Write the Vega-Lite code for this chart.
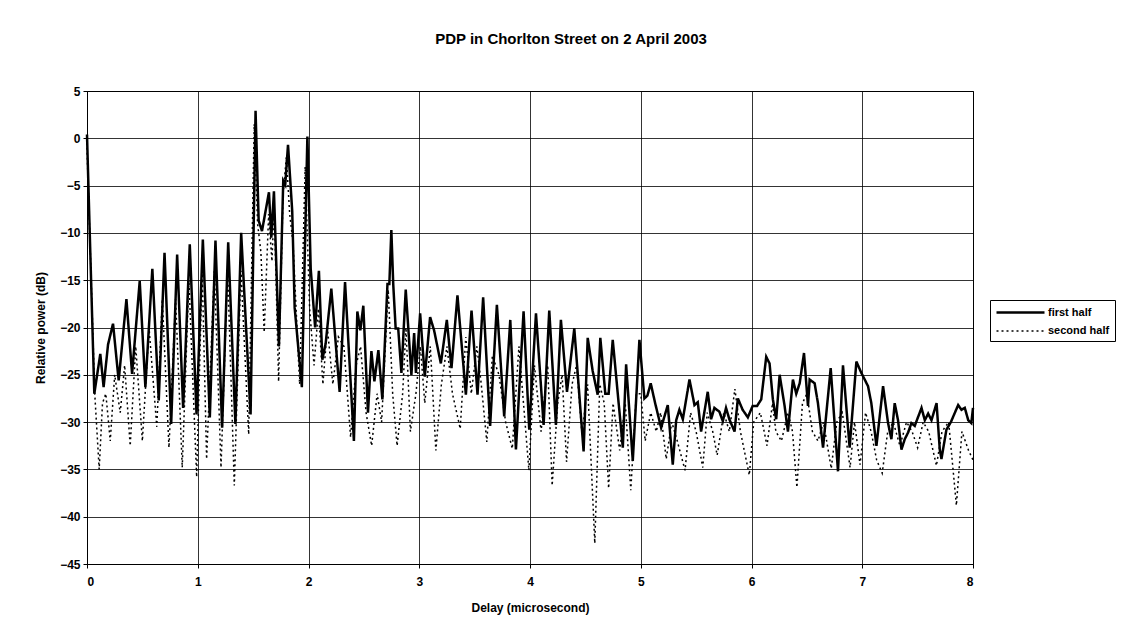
{
  "$schema": "https://vega.github.io/schema/vega-lite/v6.json",
  "autosize": {"type": "none"},
  "padding": {"left": 87, "top": 91, "right": 152, "bottom": 74},
  "width": 886,
  "height": 473,
  "background": "white",
  "title": {
    "text": "PDP in Chorlton Street on 2 April 2003",
    "font": "Liberation Sans",
    "fontSize": 15,
    "fontWeight": "bold",
    "color": "black",
    "anchor": "middle",
    "dx": 41,
    "offset": 38
  },
  "config": {
    "view": {"stroke": "black", "strokeWidth": 1},
    "axis": {
      "gridColor": "black",
      "gridWidth": 0.8,
      "gridOpacity": 1,
      "domainColor": "black",
      "tickColor": "black",
      "tickSize": 4,
      "labelFont": "Liberation Sans",
      "labelFontWeight": "bold",
      "labelFontSize": 12,
      "labelColor": "black",
      "titleFont": "Liberation Sans",
      "titleFontWeight": "bold",
      "titleFontSize": 12,
      "titleColor": "black"
    }
  },
  "datasets": {
    "pdp": [
      {"series": "first half", "delay": 0.0, "power": 0.4},
      {"series": "first half", "delay": 0.02, "power": -8},
      {"series": "first half", "delay": 0.066, "power": -27},
      {"series": "first half", "delay": 0.12, "power": -22.8},
      {"series": "first half", "delay": 0.15, "power": -26.3},
      {"series": "first half", "delay": 0.19, "power": -21.8},
      {"series": "first half", "delay": 0.235, "power": -19.6},
      {"series": "first half", "delay": 0.286, "power": -25.6},
      {"series": "first half", "delay": 0.356, "power": -17},
      {"series": "first half", "delay": 0.407, "power": -24.9},
      {"series": "first half", "delay": 0.476, "power": -15.1},
      {"series": "first half", "delay": 0.527, "power": -26.3},
      {"series": "first half", "delay": 0.59, "power": -13.8},
      {"series": "first half", "delay": 0.648, "power": -27.7},
      {"series": "first half", "delay": 0.7, "power": -12.1},
      {"series": "first half", "delay": 0.76, "power": -30.2},
      {"series": "first half", "delay": 0.814, "power": -12.3},
      {"series": "first half", "delay": 0.868, "power": -28.5},
      {"series": "first half", "delay": 0.928, "power": -11.2},
      {"series": "first half", "delay": 0.989, "power": -29.2},
      {"series": "first half", "delay": 1.046, "power": -10.7},
      {"series": "first half", "delay": 1.109, "power": -29.5},
      {"series": "first half", "delay": 1.16, "power": -10.8},
      {"series": "first half", "delay": 1.22, "power": -30.6},
      {"series": "first half", "delay": 1.275, "power": -11},
      {"series": "first half", "delay": 1.34, "power": -30.2},
      {"series": "first half", "delay": 1.392, "power": -10},
      {"series": "first half", "delay": 1.477, "power": -29.2},
      {"series": "first half", "delay": 1.522, "power": 2.9},
      {"series": "first half", "delay": 1.55, "power": -8.7},
      {"series": "first half", "delay": 1.58, "power": -9.8},
      {"series": "first half", "delay": 1.643, "power": -5.7},
      {"series": "first half", "delay": 1.664, "power": -10.5},
      {"series": "first half", "delay": 1.688, "power": -5.6},
      {"series": "first half", "delay": 1.733, "power": -22},
      {"series": "first half", "delay": 1.772, "power": -4.5},
      {"series": "first half", "delay": 1.79, "power": -4.9},
      {"series": "first half", "delay": 1.815, "power": -0.7},
      {"series": "first half", "delay": 1.853, "power": -7.7},
      {"series": "first half", "delay": 1.875, "power": -17.9},
      {"series": "first half", "delay": 1.94, "power": -26.3},
      {"series": "first half", "delay": 1.99, "power": 0.2},
      {"series": "first half", "delay": 2.02, "power": -13.8},
      {"series": "first half", "delay": 2.06, "power": -20},
      {"series": "first half", "delay": 2.094, "power": -14},
      {"series": "first half", "delay": 2.125, "power": -23.4},
      {"series": "first half", "delay": 2.155, "power": -21.7},
      {"series": "first half", "delay": 2.206, "power": -15.9},
      {"series": "first half", "delay": 2.281, "power": -26.8},
      {"series": "first half", "delay": 2.33, "power": -15.2},
      {"series": "first half", "delay": 2.41, "power": -32},
      {"series": "first half", "delay": 2.441, "power": -18.3},
      {"series": "first half", "delay": 2.468, "power": -20.3},
      {"series": "first half", "delay": 2.495, "power": -17.7},
      {"series": "first half", "delay": 2.537, "power": -29},
      {"series": "first half", "delay": 2.568, "power": -22.5},
      {"series": "first half", "delay": 2.595, "power": -25.7},
      {"series": "first half", "delay": 2.631, "power": -22.4},
      {"series": "first half", "delay": 2.667, "power": -27.6},
      {"series": "first half", "delay": 2.713, "power": -15.4},
      {"series": "first half", "delay": 2.73, "power": -15.4},
      {"series": "first half", "delay": 2.748, "power": -9.7},
      {"series": "first half", "delay": 2.765, "power": -15.4},
      {"series": "first half", "delay": 2.787, "power": -20.1},
      {"series": "first half", "delay": 2.81, "power": -20.1},
      {"series": "first half", "delay": 2.839, "power": -24.8},
      {"series": "first half", "delay": 2.878, "power": -16},
      {"series": "first half", "delay": 2.929, "power": -25},
      {"series": "first half", "delay": 2.954, "power": -20.6},
      {"series": "first half", "delay": 2.97, "power": -24.8},
      {"series": "first half", "delay": 3.008, "power": -18.5},
      {"series": "first half", "delay": 3.05, "power": -25.2},
      {"series": "first half", "delay": 3.098, "power": -18.9},
      {"series": "first half", "delay": 3.134, "power": -20.3},
      {"series": "first half", "delay": 3.195, "power": -23.8},
      {"series": "first half", "delay": 3.249, "power": -19.2},
      {"series": "first half", "delay": 3.291, "power": -24.3},
      {"series": "first half", "delay": 3.345, "power": -16.6},
      {"series": "first half", "delay": 3.421, "power": -27.1},
      {"series": "first half", "delay": 3.472, "power": -18.2},
      {"series": "first half", "delay": 3.526, "power": -27.1},
      {"series": "first half", "delay": 3.577, "power": -16.8},
      {"series": "first half", "delay": 3.64, "power": -30.4},
      {"series": "first half", "delay": 3.701, "power": -17.6},
      {"series": "first half", "delay": 3.767, "power": -29.4},
      {"series": "first half", "delay": 3.822, "power": -19.2},
      {"series": "first half", "delay": 3.873, "power": -32.9},
      {"series": "first half", "delay": 3.942, "power": -18.3},
      {"series": "first half", "delay": 3.993, "power": -30.8},
      {"series": "first half", "delay": 4.054, "power": -18.5},
      {"series": "first half", "delay": 4.123, "power": -30.3},
      {"series": "first half", "delay": 4.174, "power": -18.2},
      {"series": "first half", "delay": 4.234, "power": -30.3},
      {"series": "first half", "delay": 4.279, "power": -19.2},
      {"series": "first half", "delay": 4.334, "power": -26.8},
      {"series": "first half", "delay": 4.4, "power": -20.1},
      {"series": "first half", "delay": 4.484, "power": -33.1},
      {"series": "first half", "delay": 4.521, "power": -21.1},
      {"series": "first half", "delay": 4.566, "power": -24.6},
      {"series": "first half", "delay": 4.611, "power": -27.1},
      {"series": "first half", "delay": 4.635, "power": -21.1},
      {"series": "first half", "delay": 4.68, "power": -27},
      {"series": "first half", "delay": 4.71, "power": -27},
      {"series": "first half", "delay": 4.747, "power": -21.3},
      {"series": "first half", "delay": 4.838, "power": -32.7},
      {"series": "first half", "delay": 4.868, "power": -23.9},
      {"series": "first half", "delay": 4.928, "power": -34.1},
      {"series": "first half", "delay": 4.988, "power": -21.3},
      {"series": "first half", "delay": 5.033, "power": -27.5},
      {"series": "first half", "delay": 5.06, "power": -27.2},
      {"series": "first half", "delay": 5.09, "power": -25.9},
      {"series": "first half", "delay": 5.13, "power": -28},
      {"series": "first half", "delay": 5.184, "power": -30.6},
      {"series": "first half", "delay": 5.244, "power": -28.2},
      {"series": "first half", "delay": 5.289, "power": -34.5},
      {"series": "first half", "delay": 5.32, "power": -29.8},
      {"series": "first half", "delay": 5.349, "power": -28.7},
      {"series": "first half", "delay": 5.38, "power": -29.7},
      {"series": "first half", "delay": 5.44, "power": -25.5},
      {"series": "first half", "delay": 5.485, "power": -28.2},
      {"series": "first half", "delay": 5.515, "power": -27.9},
      {"series": "first half", "delay": 5.545, "power": -31},
      {"series": "first half", "delay": 5.605, "power": -26.8},
      {"series": "first half", "delay": 5.635, "power": -29.7},
      {"series": "first half", "delay": 5.665, "power": -28.5},
      {"series": "first half", "delay": 5.71, "power": -28.9},
      {"series": "first half", "delay": 5.741, "power": -29.9},
      {"series": "first half", "delay": 5.77, "power": -28.5},
      {"series": "first half", "delay": 5.8, "power": -29.7},
      {"series": "first half", "delay": 5.847, "power": -31},
      {"series": "first half", "delay": 5.877, "power": -27.5},
      {"series": "first half", "delay": 5.92, "power": -28.7},
      {"series": "first half", "delay": 5.967, "power": -29.5},
      {"series": "first half", "delay": 6.01, "power": -28.3},
      {"series": "first half", "delay": 6.05, "power": -28.3},
      {"series": "first half", "delay": 6.088, "power": -27.6},
      {"series": "first half", "delay": 6.133, "power": -23.1},
      {"series": "first half", "delay": 6.163, "power": -23.8},
      {"series": "first half", "delay": 6.193, "power": -27.6},
      {"series": "first half", "delay": 6.223, "power": -29.7},
      {"series": "first half", "delay": 6.254, "power": -25},
      {"series": "first half", "delay": 6.299, "power": -28.3},
      {"series": "first half", "delay": 6.329, "power": -31},
      {"series": "first half", "delay": 6.374, "power": -25.5},
      {"series": "first half", "delay": 6.404, "power": -27},
      {"series": "first half", "delay": 6.435, "power": -25.9},
      {"series": "first half", "delay": 6.474, "power": -22.7},
      {"series": "first half", "delay": 6.51, "power": -28.3},
      {"series": "first half", "delay": 6.525, "power": -25.5},
      {"series": "first half", "delay": 6.57, "power": -25.9},
      {"series": "first half", "delay": 6.6, "power": -28},
      {"series": "first half", "delay": 6.646, "power": -32.7},
      {"series": "first half", "delay": 6.715, "power": -24.3},
      {"series": "first half", "delay": 6.781, "power": -35.2},
      {"series": "first half", "delay": 6.826, "power": -24},
      {"series": "first half", "delay": 6.886, "power": -32.7},
      {"series": "first half", "delay": 6.947, "power": -23.6},
      {"series": "first half", "delay": 6.992, "power": -24.8},
      {"series": "first half", "delay": 7.052, "power": -26.2},
      {"series": "first half", "delay": 7.082, "power": -28},
      {"series": "first half", "delay": 7.128, "power": -32.5},
      {"series": "first half", "delay": 7.188, "power": -26.2},
      {"series": "first half", "delay": 7.233, "power": -30.1},
      {"series": "first half", "delay": 7.263, "power": -31.8},
      {"series": "first half", "delay": 7.293, "power": -28},
      {"series": "first half", "delay": 7.323, "power": -29.8},
      {"series": "first half", "delay": 7.354, "power": -32.9},
      {"series": "first half", "delay": 7.384, "power": -31.8},
      {"series": "first half", "delay": 7.414, "power": -31.1},
      {"series": "first half", "delay": 7.444, "power": -30.1},
      {"series": "first half", "delay": 7.474, "power": -30.4},
      {"series": "first half", "delay": 7.535, "power": -28.5},
      {"series": "first half", "delay": 7.565, "power": -29.8},
      {"series": "first half", "delay": 7.595, "power": -29.1},
      {"series": "first half", "delay": 7.625, "power": -29.8},
      {"series": "first half", "delay": 7.671, "power": -28},
      {"series": "first half", "delay": 7.7, "power": -32.9},
      {"series": "first half", "delay": 7.715, "power": -33.9},
      {"series": "first half", "delay": 7.76, "power": -30.8},
      {"series": "first half", "delay": 7.8, "power": -30},
      {"series": "first half", "delay": 7.866, "power": -28.2},
      {"series": "first half", "delay": 7.896, "power": -28.7},
      {"series": "first half", "delay": 7.926, "power": -28.5},
      {"series": "first half", "delay": 7.957, "power": -29.8},
      {"series": "first half", "delay": 7.985, "power": -30.1},
      {"series": "first half", "delay": 8.0, "power": -28.5},

      {"series": "second half", "delay": 0.0, "power": -1},
      {"series": "second half", "delay": 0.03, "power": -12},
      {"series": "second half", "delay": 0.07, "power": -27},
      {"series": "second half", "delay": 0.11, "power": -35},
      {"series": "second half", "delay": 0.14, "power": -28},
      {"series": "second half", "delay": 0.17, "power": -27},
      {"series": "second half", "delay": 0.21, "power": -32},
      {"series": "second half", "delay": 0.25, "power": -25},
      {"series": "second half", "delay": 0.3, "power": -29},
      {"series": "second half", "delay": 0.34, "power": -24},
      {"series": "second half", "delay": 0.39, "power": -32.5},
      {"series": "second half", "delay": 0.44, "power": -22},
      {"series": "second half", "delay": 0.5, "power": -32},
      {"series": "second half", "delay": 0.56, "power": -20},
      {"series": "second half", "delay": 0.63, "power": -30.5},
      {"series": "second half", "delay": 0.68, "power": -17},
      {"series": "second half", "delay": 0.74, "power": -32.7},
      {"series": "second half", "delay": 0.8, "power": -17},
      {"series": "second half", "delay": 0.86, "power": -34.8},
      {"series": "second half", "delay": 0.92, "power": -15},
      {"series": "second half", "delay": 0.99, "power": -35.8},
      {"series": "second half", "delay": 1.04, "power": -14},
      {"series": "second half", "delay": 1.08, "power": -33.9},
      {"series": "second half", "delay": 1.15, "power": -14},
      {"series": "second half", "delay": 1.21, "power": -34.8},
      {"series": "second half", "delay": 1.27, "power": -14},
      {"series": "second half", "delay": 1.33, "power": -36.7},
      {"series": "second half", "delay": 1.39, "power": -14},
      {"series": "second half", "delay": 1.46, "power": -31.3},
      {"series": "second half", "delay": 1.51, "power": 1.5},
      {"series": "second half", "delay": 1.54, "power": -9},
      {"series": "second half", "delay": 1.57, "power": -12},
      {"series": "second half", "delay": 1.6, "power": -20.5},
      {"series": "second half", "delay": 1.64, "power": -8},
      {"series": "second half", "delay": 1.67, "power": -13},
      {"series": "second half", "delay": 1.69, "power": -7},
      {"series": "second half", "delay": 1.73, "power": -25.7},
      {"series": "second half", "delay": 1.77, "power": -6},
      {"series": "second half", "delay": 1.8, "power": -2},
      {"series": "second half", "delay": 1.83, "power": -8},
      {"series": "second half", "delay": 1.86, "power": -11},
      {"series": "second half", "delay": 1.88, "power": -16},
      {"series": "second half", "delay": 1.92, "power": -26},
      {"series": "second half", "delay": 1.97, "power": -3},
      {"series": "second half", "delay": 2.01, "power": -18},
      {"series": "second half", "delay": 2.05, "power": -24},
      {"series": "second half", "delay": 2.09, "power": -18},
      {"series": "second half", "delay": 2.13, "power": -26},
      {"series": "second half", "delay": 2.17, "power": -20},
      {"series": "second half", "delay": 2.22, "power": -26},
      {"series": "second half", "delay": 2.27, "power": -21},
      {"series": "second half", "delay": 2.32, "power": -22},
      {"series": "second half", "delay": 2.38, "power": -31.6},
      {"series": "second half", "delay": 2.43, "power": -24},
      {"series": "second half", "delay": 2.47, "power": -22},
      {"series": "second half", "delay": 2.52, "power": -29},
      {"series": "second half", "delay": 2.57, "power": -32.5},
      {"series": "second half", "delay": 2.62, "power": -27},
      {"series": "second half", "delay": 2.66, "power": -30},
      {"series": "second half", "delay": 2.72, "power": -16},
      {"series": "second half", "delay": 2.76, "power": -27},
      {"series": "second half", "delay": 2.8, "power": -32.5},
      {"series": "second half", "delay": 2.85, "power": -27},
      {"series": "second half", "delay": 2.88, "power": -20},
      {"series": "second half", "delay": 2.92, "power": -31},
      {"series": "second half", "delay": 2.97, "power": -27},
      {"series": "second half", "delay": 3.01, "power": -22},
      {"series": "second half", "delay": 3.05, "power": -28},
      {"series": "second half", "delay": 3.1, "power": -22},
      {"series": "second half", "delay": 3.15, "power": -33},
      {"series": "second half", "delay": 3.2, "power": -26},
      {"series": "second half", "delay": 3.25, "power": -22},
      {"series": "second half", "delay": 3.3, "power": -27},
      {"series": "second half", "delay": 3.37, "power": -30.7},
      {"series": "second half", "delay": 3.42, "power": -21},
      {"series": "second half", "delay": 3.47, "power": -27},
      {"series": "second half", "delay": 3.52, "power": -22},
      {"series": "second half", "delay": 3.56, "power": -26},
      {"series": "second half", "delay": 3.61, "power": -32.1},
      {"series": "second half", "delay": 3.66, "power": -23},
      {"series": "second half", "delay": 3.72, "power": -25},
      {"series": "second half", "delay": 3.78, "power": -30},
      {"series": "second half", "delay": 3.84, "power": -32.8},
      {"series": "second half", "delay": 3.9, "power": -22},
      {"series": "second half", "delay": 3.99, "power": -35.1},
      {"series": "second half", "delay": 4.04, "power": -24},
      {"series": "second half", "delay": 4.1, "power": -31},
      {"series": "second half", "delay": 4.16, "power": -24},
      {"series": "second half", "delay": 4.2, "power": -36.7},
      {"series": "second half", "delay": 4.25, "power": -28},
      {"series": "second half", "delay": 4.29, "power": -25},
      {"series": "second half", "delay": 4.33, "power": -34.2},
      {"series": "second half", "delay": 4.38, "power": -26},
      {"series": "second half", "delay": 4.42, "power": -24},
      {"series": "second half", "delay": 4.47, "power": -31.4},
      {"series": "second half", "delay": 4.52, "power": -26},
      {"series": "second half", "delay": 4.585, "power": -42.8},
      {"series": "second half", "delay": 4.63, "power": -26},
      {"series": "second half", "delay": 4.67, "power": -28},
      {"series": "second half", "delay": 4.71, "power": -37},
      {"series": "second half", "delay": 4.75, "power": -28},
      {"series": "second half", "delay": 4.81, "power": -33},
      {"series": "second half", "delay": 4.86, "power": -28},
      {"series": "second half", "delay": 4.91, "power": -37.2},
      {"series": "second half", "delay": 4.96, "power": -27},
      {"series": "second half", "delay": 5.0, "power": -27},
      {"series": "second half", "delay": 5.04, "power": -32},
      {"series": "second half", "delay": 5.09, "power": -29},
      {"series": "second half", "delay": 5.14, "power": -31},
      {"series": "second half", "delay": 5.18, "power": -29},
      {"series": "second half", "delay": 5.23, "power": -33.9},
      {"series": "second half", "delay": 5.28, "power": -30},
      {"series": "second half", "delay": 5.33, "power": -32},
      {"series": "second half", "delay": 5.4, "power": -35.1},
      {"series": "second half", "delay": 5.45, "power": -29},
      {"series": "second half", "delay": 5.5, "power": -31},
      {"series": "second half", "delay": 5.56, "power": -34.8},
      {"series": "second half", "delay": 5.6, "power": -29},
      {"series": "second half", "delay": 5.65, "power": -31},
      {"series": "second half", "delay": 5.69, "power": -33.5},
      {"series": "second half", "delay": 5.75, "power": -29},
      {"series": "second half", "delay": 5.8, "power": -31},
      {"series": "second half", "delay": 5.85, "power": -26.5},
      {"series": "second half", "delay": 5.9, "power": -31},
      {"series": "second half", "delay": 5.98, "power": -35.6},
      {"series": "second half", "delay": 6.02, "power": -30},
      {"series": "second half", "delay": 6.08, "power": -29},
      {"series": "second half", "delay": 6.14, "power": -32.5},
      {"series": "second half", "delay": 6.19, "power": -28},
      {"series": "second half", "delay": 6.22, "power": -31},
      {"series": "second half", "delay": 6.27, "power": -32},
      {"series": "second half", "delay": 6.33, "power": -29},
      {"series": "second half", "delay": 6.37, "power": -31},
      {"series": "second half", "delay": 6.41, "power": -36.9},
      {"series": "second half", "delay": 6.46, "power": -28},
      {"series": "second half", "delay": 6.5, "power": -27},
      {"series": "second half", "delay": 6.55, "power": -31},
      {"series": "second half", "delay": 6.6, "power": -32},
      {"series": "second half", "delay": 6.65, "power": -30},
      {"series": "second half", "delay": 6.72, "power": -34.9},
      {"series": "second half", "delay": 6.77, "power": -30},
      {"series": "second half", "delay": 6.82, "power": -29},
      {"series": "second half", "delay": 6.89, "power": -34.8},
      {"series": "second half", "delay": 6.93, "power": -30},
      {"series": "second half", "delay": 6.98, "power": -34.5},
      {"series": "second half", "delay": 7.03, "power": -29},
      {"series": "second half", "delay": 7.08, "power": -31},
      {"series": "second half", "delay": 7.13, "power": -34},
      {"series": "second half", "delay": 7.18, "power": -35.4},
      {"series": "second half", "delay": 7.23, "power": -31},
      {"series": "second half", "delay": 7.28, "power": -30},
      {"series": "second half", "delay": 7.34, "power": -32.5},
      {"series": "second half", "delay": 7.4, "power": -30},
      {"series": "second half", "delay": 7.45, "power": -31},
      {"series": "second half", "delay": 7.5, "power": -32.7},
      {"series": "second half", "delay": 7.55, "power": -30},
      {"series": "second half", "delay": 7.6, "power": -31},
      {"series": "second half", "delay": 7.67, "power": -34.6},
      {"series": "second half", "delay": 7.72, "power": -31},
      {"series": "second half", "delay": 7.78, "power": -30},
      {"series": "second half", "delay": 7.85, "power": -38.8},
      {"series": "second half", "delay": 7.9, "power": -31},
      {"series": "second half", "delay": 7.96, "power": -33},
      {"series": "second half", "delay": 8.0, "power": -34}
    ]
  },
  "data": {"name": "pdp"},
  "mark": {"type": "line", "color": "black", "interpolate": "linear"},
  "encoding": {
    "x": {
      "field": "delay",
      "type": "quantitative",
      "scale": {"domain": [0, 8], "nice": false, "zero": false},
      "axis": {
        "title": "Delay (microsecond)",
        "values": [0, 1, 2, 3, 4, 5, 6, 7, 8],
        "format": "d",
        "labelPadding": 8,
        "titlePadding": 15,
        "grid": true
      }
    },
    "y": {
      "field": "power",
      "type": "quantitative",
      "scale": {"domain": [-45, 5], "nice": false, "zero": false},
      "axis": {
        "title": "Relative power (dB)",
        "values": [5, 0, -5, -10, -15, -20, -25, -30, -35, -40, -45],
        "format": "d",
        "labelPadding": 3,
        "titlePadding": 12,
        "grid": true
      }
    },
    "strokeDash": {
      "field": "series",
      "type": "nominal",
      "scale": {"domain": ["first half", "second half"], "range": [[1, 0], [2, 3]]},
      "legend": {
        "orient": "none",
        "legendX": 903,
        "legendY": 209,
        "title": null,
        "strokeColor": "black",
        "padding": 5,
        "symbolType": "M-4,0H4",
        "symbolSize": 144,
        "symbolOffset": 18,
        "symbolStrokeColor": "black",
        "symbolStrokeWidth": 1.5,
        "labelFont": "Liberation Sans",
        "labelFontWeight": "bold",
        "labelFontSize": 11,
        "labelColor": "black",
        "labelOffset": 20,
        "rowPadding": 6
      }
    },
    "strokeWidth": {
      "field": "series",
      "type": "nominal",
      "scale": {"domain": ["first half", "second half"], "range": [2.5, 1.5]},
      "legend": null
    }
  }
}
